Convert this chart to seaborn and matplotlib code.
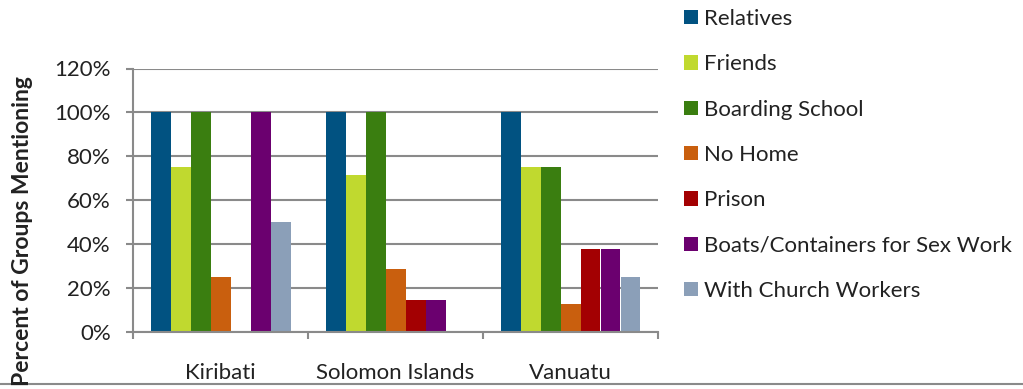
import matplotlib
matplotlib.use("Agg")
import matplotlib.pyplot as plt
import numpy as np
import pandas as pd
import seaborn as sns
from matplotlib.lines import Line2D
from matplotlib.ticker import FixedLocator, FuncFormatter

# Share of groups mentioning each place where girls stay, by country
countries = ["Kiribati", "Solomon Islands", "Vanuatu"]
places = ["Relatives", "Friends", "Boarding School", "No Home", "Prison",
          "Boats/Containers for Sex Work", "With Church Workers"]
kiribati = [100, 75, 100, 25, 0, 100, 50]
solomon_islands = [100, 71.4, 100, 28.6, 14.3, 14.3, 0]
vanuatu = [100, 75, 75, 12.5, 37.5, 37.5, 25]
y_ticks = [0, 20, 40, 60, 80, 100, 120]

colors = ["#015281", "#C0D92F", "#3A7E10", "#C95F0E", "#A30002", "#6B006F", "#8B9FB8"]
grey = "#8a8a8a"
text_color = "#222222"

sns.set_theme(style="white")
plt.rcParams["font.family"] = ["Lato", "DejaVu Sans"]

rows = []
for country, vals in zip(countries, [kiribati, solomon_islands, vanuatu]):
    for place, v in zip(places, vals):
        rows.append({"Country": country, "Place": place, "Percent": v})
df = pd.DataFrame(rows)

W, H = 1023, 389
fig = plt.figure(figsize=(W / 100, H / 100), dpi=100)
ax = fig.add_axes([133 / W, 57.5 / H, 525 / W, 263 / H])

sns.barplot(data=df, x="Country", y="Percent", hue="Place", order=countries,
            hue_order=places, palette=colors, width=0.8, linewidth=0,
            saturation=1, errorbar=None, ax=ax)

ax.set_xlim(-0.5, 2.5)
ax.set_ylim(0, 120)
ax.set_axisbelow(True)
ax.yaxis.grid(True, color=grey, lw=1.5)
ax.xaxis.grid(False)

for side in ["top", "right"]:
    ax.spines[side].set_visible(False)
for side in ["left", "bottom"]:
    ax.spines[side].set_color(grey)
    ax.spines[side].set_linewidth(1.5)

ax.yaxis.set_major_locator(FixedLocator(y_ticks))
ax.yaxis.set_major_formatter(FuncFormatter(lambda v, p: f"{v:.0f}%"))
ax.tick_params(axis="y", which="major", left=True, direction="out", length=5,
               width=1.5, color=grey, pad=11, labelsize=16, labelcolor=text_color)

# group boundaries carry tick marks, group centres carry the labels
ax.xaxis.set_major_locator(FixedLocator([-0.5, 0.5, 1.5, 2.5]))
ax.xaxis.set_minor_locator(FixedLocator(range(len(countries))))
ax.set_xticklabels([""] * 4)
ax.set_xticklabels(countries, minor=True)
ax.tick_params(axis="x", which="major", bottom=True, direction="out", length=5,
               width=1.5, color=grey)
ax.tick_params(axis="x", which="minor", bottom=True, length=0, pad=23,
               labelsize=16, labelcolor=text_color)
ax.set_xlabel("")
ax.set_ylabel("")

handles, labels = ax.get_legend_handles_labels()
ax.get_legend().remove()
fig.legend(handles, labels, loc="upper left", bbox_to_anchor=(684 / W, 1 - 9 / H),
           frameon=False, fontsize=16, borderpad=0, borderaxespad=0,
           handlelength=0.62, handleheight=0.62, handletextpad=0.3,
           labelspacing=1.14, labelcolor=text_color)

fig.text(23 / W, 1 - 76 / H, "Percent of Groups Mentioning", rotation=90,
         ha="center", va="top", fontsize=16.5, fontweight="bold", color=text_color)

fig.add_artist(Line2D([0, 1], [1 - 384 / H] * 2, transform=fig.transFigure,
                      color=grey, lw=1.5))

fig.savefig("out.png", dpi=100)
